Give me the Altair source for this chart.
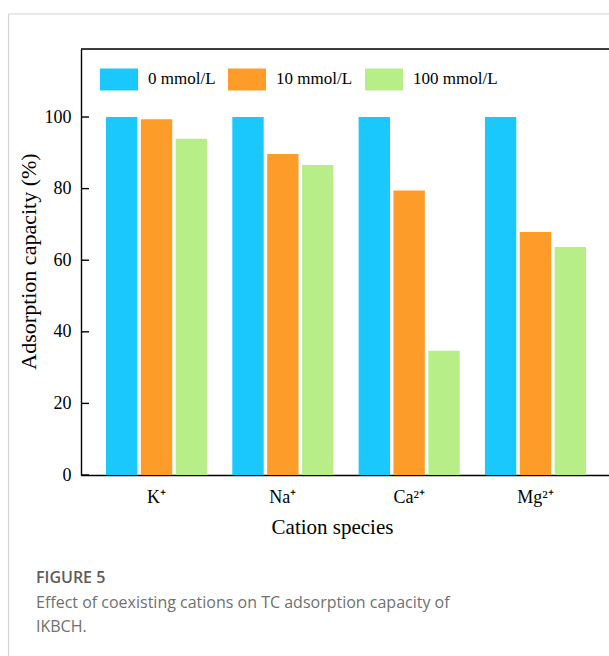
import altair as alt
import pandas as pd

# Adsorption capacity (%) of IKBCH for TC with coexisting cations
cations = ["K⁺", "Na⁺", "Ca²⁺", "Mg²⁺"]
levels = ["0 mmol/L", "10 mmol/L", "100 mmol/L"]
cap_0 = [100, 100, 100, 100]
cap_10 = [99.4, 89.7, 79.5, 67.9]
cap_100 = [93.9, 86.6, 34.7, 63.7]
bar_colors = ["#1AC8FE", "#FE9C29", "#B7EE87"]
y_ticks = [0, 20, 40, 60, 80, 100]

caption_head = "FIGURE 5"
caption_lines = [
    "Effect of coexisting cations on TC adsorption capacity of",
    "IKBCH.",
]

rows = []
for series, lvl in zip([cap_0, cap_10, cap_100], levels):
    for cat, v in zip(cations, series):
        rows.append({"cation": cat, "level": lvl, "value": v})
df = pd.DataFrame(rows)

W, H = 528, 426
SERIF = "Liberation Serif"
SANS = "Open Sans"

y_scale = alt.Scale(domain=[0, 119], nice=False, zero=True)

bars = alt.Chart(df).mark_bar(opacity=1).encode(
    x=alt.X(
        "cation:N",
        sort=cations,
        scale=alt.Scale(range=[0, 530], paddingInner=0.2, paddingOuter=0.198),
        axis=alt.Axis(
            title="Cation species",
            labelAngle=0,
            ticks=False,
            labelPadding=13,
            labelFont=SERIF,
            labelFontSize=18,
            labelColor="black",
            domainColor="black",
            domainWidth=1.4,
            titleFont=SERIF,
            titleFontSize=21,
            titleFontWeight="normal",
            titleColor="black",
            titleX=251,
            titleY=58,
            titleBaseline="alphabetic",
            titleAlign="center",
        ),
    ),
    xOffset=alt.XOffset("level:N", sort=levels, scale=alt.Scale(paddingInner=0.1, paddingOuter=0)),
    y=alt.Y(
        "value:Q",
        scale=y_scale,
        axis=alt.Axis(
            title="Adsorption capacity (%)",
            values=y_ticks,
            ticks=False,
            grid=False,
            labelPadding=10,
            labelFont=SERIF,
            labelFontSize=18,
            labelColor="black",
            domainColor="black",
            domainWidth=1.4,
            titleFont=SERIF,
            titleFontSize=22,
            titleFontWeight="normal",
            titleColor="black",
            titleX=-46,
            titleY=212,
            titleBaseline="alphabetic",
            titleAlign="center",
        ),
    ),
    color=alt.Color(
        "level:N",
        sort=levels,
        scale=alt.Scale(domain=levels, range=bar_colors),
        legend=alt.Legend(
            title=None,
            orient="none",
            direction="horizontal",
            legendX=19,
            legendY=11,
            padding=0,
            symbolType="M-1,-0.58H1V0.58H-1Z",
            symbolSize=1444,
            symbolStrokeWidth=0,
            symbolOpacity=1,
            labelFont=SERIF,
            labelFontSize=17,
            labelColor="black",
            labelOffset=10,
            columnPadding=12,
        ),
    ),
)

# inward ticks on the y axis
tick_df = pd.DataFrame({"t": y_ticks})
ticks = alt.Chart(tick_df).mark_rule(color="black", strokeWidth=1.4).encode(
    y=alt.Y("t:Q", scale=y_scale),
    x=alt.value(0),
    x2=alt.value(8),
)

# top frame line of the plot area
top_line = alt.Chart(tick_df.head(1)).mark_rule(color="black", strokeWidth=1.4).encode(
    x=alt.value(0), x2=alt.value(W + 2), y=alt.value(0)
)

# light panel border around the figure
frame_df = pd.DataFrame({"k": [0]})
frame_left = alt.Chart(frame_df).mark_rule(color="#d4d4d4", strokeWidth=1.2).encode(
    x=alt.value(-72.5), y=alt.value(-35), y2=alt.value(H + 181)
)
frame_top = alt.Chart(frame_df).mark_rule(color="#d4d4d4", strokeWidth=1.2).encode(
    x=alt.value(-72.5), x2=alt.value(W + 2), y=alt.value(-35)
)

head = alt.Chart(pd.DataFrame({"s": [caption_head]})).mark_text(
    font=SANS, fontSize=16, fontWeight=600, color="#5c5c5c", align="left", baseline="middle"
).encode(text="s:N", x=alt.value(-45), y=alt.value(529))

cap_df = pd.DataFrame({"s": caption_lines, "i": [0, 1]})
cap_df["ypix"] = [554, 578]
body = alt.Chart(cap_df).mark_text(
    font=SANS, fontSize=16, color="#707070", align="left", baseline="middle"
).encode(
    text="s:N",
    x=alt.value(-45),
    y=alt.Y("ypix:Q", scale=None),
)

chart = alt.layer(frame_left, frame_top, bars, ticks, top_line, head, body).properties(
    width=W,
    height=H,
    autosize=alt.AutoSizeParams(type="none"),
    padding={"left": 81, "top": 49, "right": 0, "bottom": 181},
).configure_view(stroke=None).configure(background="white")

chart.save("out.html", embed_options={"renderer": "svg", "actions": False})
